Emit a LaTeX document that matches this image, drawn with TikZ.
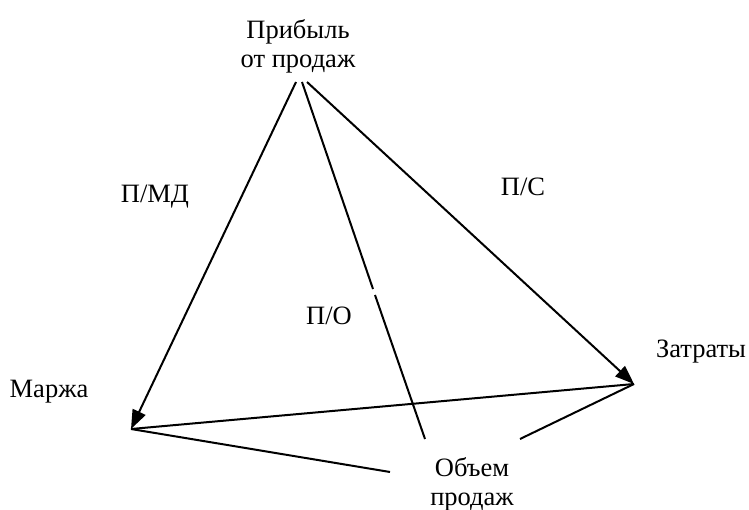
\documentclass[tikz,border=0pt]{standalone}
\usepackage{fontspec}
\setmainfont{Liberation Serif}
\usetikzlibrary{arrows.meta}
\begin{document}
\begin{tikzpicture}[x=1pt,y=-1pt,
  lbl/.style={inner sep=0pt,align=center,font=\fontsize{26.5}{29}\selectfont},
  conn/.style={line width=2pt},
  arr/.style={conn,-{Triangle[length=19pt,width=14pt]}}]
\useasboundingbox (0,0) rectangle (749,510);
% texts
\node[lbl] (top) at (298,46) {Прибыль\\от продаж};
\node[lbl] (pmd) at (155,197) {П/МД};
\node[lbl] (ps) at (523,187) {П/С};
\node[lbl] (po) at (329,316) {П/О};
\node[lbl] (marzha) at (49,392) {Маржа};
\node[lbl] (zatr) at (701,352) {Затраты};
\node[lbl] (obem) at (472,484) {Объем\\продаж};
% end points
\coordinate (t1) at (296,82);
\coordinate (t2) at (302,82);
\coordinate (t3) at (307,82);
\coordinate (m) at (131,429);
\coordinate (z) at (634,384);
\coordinate (g1) at (373,289);
\coordinate (g2) at (375,295);
\coordinate (o1) at (425,439);
\coordinate (o2) at (390,472);
\coordinate (o3) at (520,439);
% connectors
\draw[arr] (t1) -- (m);
\draw[arr] (t3) -- (z);
\draw[conn] (t2) -- (g1);
\draw[conn] (g2) -- (o1);
\draw[conn] (m) -- (z);
\draw[conn] (m) -- (o2);
\draw[conn] (o3) -- (z);
\end{tikzpicture}
\end{document}
